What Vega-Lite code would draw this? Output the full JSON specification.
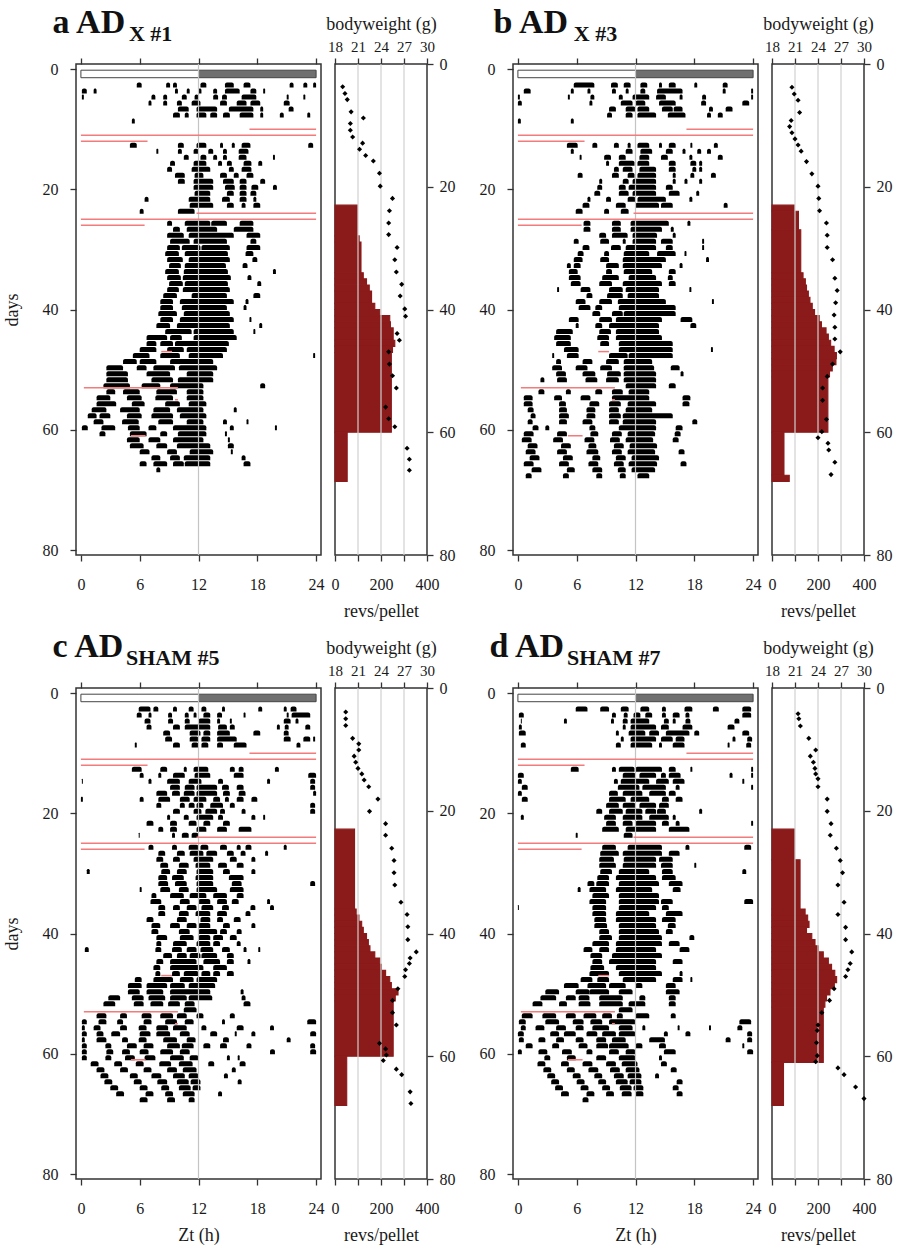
{
  "$schema": "https://vega.github.io/schema/vega-lite/v6.json",
  "padding": {"left": 2, "top": 5, "right": 5, "bottom": 5},
  "config": {
    "font": "Liberation Serif",
    "view": {"stroke": "#333333", "strokeWidth": 1.5},
    "axis": {
      "labelFont": "Liberation Serif", "labelFontSize": 16, "labelColor": "#1a1a1a",
      "titleFont": "Liberation Serif", "titleFontSize": 18, "titleFontWeight": "normal", "titleColor": "#1a1a1a",
      "tickColor": "#333333", "tickWidth": 1.3, "tickSize": 6, "domain": false, "grid": false, "labelPadding": 6,
      "labelOverlap": false, "labelFlush": false, "labelBound": false
    }
  },
  "datasets": {
    "feedLines": [
      {"d": 10, "s": 17.2, "e": 24}, {"d": 11, "s": 0, "e": 24}, {"d": 12, "s": 0, "e": 6.8},
      {"d": 24, "s": 11.8, "e": 24}, {"d": 25, "s": 0, "e": 24}, {"d": 26, "s": 0, "e": 6.5},
      {"d": 47, "s": 8.2, "e": 9.3}, {"d": 53, "s": 0.3, "e": 9.9}, {"d": 55, "s": 9.6, "e": 9.9}, {"d": 61, "s": 5.1, "e": 6.6}
    ],
    "actA": [
      {"d": 3, "s": [5.7,8.7,9.4,12.2,14.7,16.6,21.3,22.7,23.7], "e": [6.2,9.1,9.8,12.8,15.6,17.3,21.7,23.1,24]},
      {"d": 4, "s": [0.1,1.3,9.6,10.8,12.0,13.5,14.7,17.3,18.6], "e": [0.6,1.6,9.9,11.1,12.3,13.9,16.2,17.9,18.8]},
      {"d": 5, "s": [0.1,7.2,8.4,10.3,11.6,13.5,14.4,16.4,21.0,22.7], "e": [0.3,7.6,8.8,10.8,12.0,14.0,14.9,17.9,21.2,22.9]},
      {"d": 6, "s": [6.9,8.4,9.8,11.3,14.2,15.9,17.3,20.7], "e": [7.2,8.8,10.3,12.2,14.9,16.9,18.3,21.3]},
      {"d": 7, "s": [9.9,11.8,15.1,18.3,21.2], "e": [11.0,13.9,17.6,18.6,21.7]},
      {"d": 8, "s": [9.4,10.6,11.8,13.2,14.5,16.2,18.3,20.3,23.1], "e": [10.1,11.0,12.8,13.9,15.2,17.6,18.6,20.7,23.4]},
      {"d": 9, "s": [5.2], "e": [5.5]},
      {"d": 13, "s": [5.0,9.9,11.8,14.2,15.4,16.4,23.2], "e": [5.7,10.5,12.8,14.5,15.7,17.3,23.7]},
      {"d": 14, "s": [7.7,9.9,11.5,13.0,14.5,16.1], "e": [7.9,10.3,12.0,13.5,14.9,17.1]},
      {"d": 15, "s": [10.5,12.2,13.5,14.5,16.1,19.6], "e": [11.0,12.8,13.9,14.9,16.9,19.8]},
      {"d": 16, "s": [9.1,11.5,14.0,14.9,16.6,18.1], "e": [9.6,12.8,14.4,15.4,17.4,18.5]},
      {"d": 17, "s": [8.8,11.3,15.1,16.4], "e": [9.3,13.2,15.6,17.4]},
      {"d": 18, "s": [9.6,11.6,14.2,15.6,16.9], "e": [10.6,12.5,14.9,16.1,17.6]},
      {"d": 19, "s": [9.9,11.5,14.5,16.2,18.3], "e": [10.6,13.5,15.6,16.9,18.8]},
      {"d": 20, "s": [11.5,14.7,16.2,17.4,19.6], "e": [13.5,15.7,16.9,18.1,20.0]},
      {"d": 21, "s": [11.6,14.9,16.2,17.3], "e": [13.2,15.6,16.9,17.9]},
      {"d": 22, "s": [6.5,11.0,14.4,16.2,17.6], "e": [6.9,13.2,15.2,16.9,17.9]},
      {"d": 23, "s": [11.1,14.9,16.4,17.6], "e": [13.5,15.6,16.8,18.3]},
      {"d": 24, "s": [6.0,9.9], "e": [6.4,11.6]},
      {"d": 26, "s": [8.8,10.6,13.3,16.2], "e": [9.3,13.2,14.9,17.6]},
      {"d": 27, "s": [9.4,10.8,15.6], "e": [10.1,13.9,17.6]},
      {"d": 28, "s": [8.8,11.0,16.9], "e": [10.5,15.6,18.3]},
      {"d": 29, "s": [9.1,11.5,17.3], "e": [11.1,14.9,17.9]},
      {"d": 30, "s": [8.8,10.3,12.3,16.9], "e": [10.1,12.2,15.2,18.3]},
      {"d": 31, "s": [8.6,10.6,16.8], "e": [10.0,15.0,17.6]},
      {"d": 32, "s": [8.8,11.0,17.5], "e": [10.4,15.2,18.0]},
      {"d": 33, "s": [9.0,10.6,16.5], "e": [10.2,14.8,17.0]},
      {"d": 34, "s": [8.6,10.5,19.6], "e": [10.0,15.0,19.9]},
      {"d": 35, "s": [8.8,10.4,17.0], "e": [10.2,15.3,17.4]},
      {"d": 36, "s": [9.0,10.6,18.0], "e": [10.4,15.0,18.4]},
      {"d": 37, "s": [8.8,10.4], "e": [10.0,15.2]},
      {"d": 38, "s": [8.4,11.3,17.6], "e": [9.8,14.9,18.3]},
      {"d": 39, "s": [8.1,10.1,16.8], "e": [9.4,15.6,17.1]},
      {"d": 40, "s": [8.1,10.3,16.6], "e": [9.4,14.9,16.9]},
      {"d": 41, "s": [7.9,10.5], "e": [9.8,15.2]},
      {"d": 42, "s": [8.1,10.1,17.2], "e": [9.4,15.6,17.4]},
      {"d": 43, "s": [7.7,9.8,18.2], "e": [9.1,15.2,18.5]},
      {"d": 44, "s": [8.6,11.5,17.6], "e": [11.3,15.6,17.8]},
      {"d": 45, "s": [6.7,9.1,11.5], "e": [8.8,10.3,15.9]},
      {"d": 46, "s": [6.7,8.1,9.6], "e": [7.7,9.4,15.1]},
      {"d": 47, "s": [6.0,8.8,10.8], "e": [7.7,10.5,14.9]},
      {"d": 48, "s": [5.3,8.1,11.0,23.7], "e": [7.0,10.1,14.5,23.9]},
      {"d": 49, "s": [4.3,6.0,9.1], "e": [5.7,7.7,13.5]},
      {"d": 50, "s": [2.6,5.7,7.4,10.0], "e": [4.3,6.7,9.6,13.9]},
      {"d": 51, "s": [2.6,6.7,10.8], "e": [4.8,9.1,13.5]},
      {"d": 52, "s": [2.6,7.2,9.9], "e": [4.8,9.4,13.5]},
      {"d": 53, "s": [2.3,6.2,9.1,18.3], "e": [5.0,8.1,12.5,18.8]},
      {"d": 54, "s": [2.6,4.3,7.7,10.8], "e": [3.5,6.0,9.8,12.5]},
      {"d": 55, "s": [1.6,4.7,7.6,10.8], "e": [3.0,6.2,9.4,12.5]},
      {"d": 56, "s": [1.6,5.2,8.6,11.0], "e": [3.6,6.5,10.1,12.8]},
      {"d": 57, "s": [1.1,4.0,7.4,9.8,15.6], "e": [2.6,6.0,9.1,12.5,15.9]},
      {"d": 58, "s": [0.7,1.9,4.7,7.2,10.1], "e": [1.6,3.0,6.2,9.4,12.8]},
      {"d": 59, "s": [1.3,4.2,7.9,10.8,14.5,16.9], "e": [2.3,5.9,9.4,12.5,14.9,17.1]},
      {"d": 60, "s": [0.1,2.1,4.8,6.9,9.4,15.2,19.8], "e": [0.7,3.5,6.0,7.7,12.8,15.6,20.0]},
      {"d": 61, "s": [1.9,5.0,8.1,9.9,14.7], "e": [2.5,6.7,8.8,12.8,14.9]},
      {"d": 62, "s": [4.7,6.9,9.4,15.0], "e": [6.0,8.1,12.5,15.2]},
      {"d": 63, "s": [5.0,7.7,9.8,15.0], "e": [6.4,8.8,13.2,15.6]},
      {"d": 64, "s": [6.0,8.8,11.1,15.3], "e": [7.0,9.8,13.5,15.5]},
      {"d": 65, "s": [7.2,9.1,10.5,16.4], "e": [8.1,10.1,13.2,16.8]},
      {"d": 66, "s": [6.0,7.4,9.4,10.6,16.6], "e": [6.7,8.8,10.5,13.2,17.3]},
      {"d": 67, "s": [7.7], "e": [8.1]}
    ],
    "actB": [
      {"d": 3, "s": [5.7,9.5,10.8,12.5,14.4,15.4,18.0,20.9], "e": [7.8,10.2,11.5,13.2,14.7,16.1,18.3,21.4]},
      {"d": 4, "s": [0.6,5.4,7.1,9.6,11.0,12.5,14.2,20.9,23.8], "e": [1.3,5.7,7.4,10.0,11.3,13.0,16.8,21.2,24.0]},
      {"d": 5, "s": [0.0,5.1,7.4,10.3,11.7,14.1,16.5,18.8,23.8], "e": [0.2,5.3,7.8,10.7,13.4,15.1,16.8,19.2,24.0]},
      {"d": 6, "s": [0.0,7.3,10.5,12.0,14.4,18.7,22.9], "e": [0.4,7.6,11.7,13.0,16.1,19.2,23.6]},
      {"d": 7, "s": [9.3,11.0,12.2,14.7,15.9,19.5,21.2], "e": [10.0,12.0,13.4,15.8,16.8,19.9,21.9]},
      {"d": 8, "s": [9.1,11.0,12.2,15.3,19.3,20.4], "e": [9.6,11.7,14.1,17.1,19.7,20.9]},
      {"d": 9, "s": [0.0,5.4], "e": [0.3,5.7]},
      {"d": 13, "s": [5.0,7.6,9.8,11.2,12.2,14.4,15.4,17.6,20.0], "e": [6.1,8.1,10.3,11.5,13.4,14.7,16.1,17.8,20.4]},
      {"d": 14, "s": [5.4,11.0,12.5,15.1,16.8,18.3,19.3], "e": [5.7,11.7,13.7,15.8,17.1,18.7,19.7]},
      {"d": 15, "s": [6.3,8.8,10.3,12.4,14.6,17.5,20.4], "e": [6.5,9.5,11.0,13.4,15.3,17.8,20.9]},
      {"d": 16, "s": [9.0,10.3,12.2,15.4,17.6,18.5], "e": [9.3,11.9,13.4,16.1,18.2,18.8]},
      {"d": 17, "s": [9.8,10.7,12.4,15.4,17.8,18.5], "e": [10.3,11.7,14.1,16.1,18.2,18.8]},
      {"d": 18, "s": [6.1,9.6,11.2,12.2,15.8,17.6,19.7], "e": [6.6,10.3,11.9,14.1,16.1,18.0,20.2]},
      {"d": 19, "s": [8.3,10.7,11.7,15.8,17.0,18.5], "e": [8.6,11.3,14.1,16.1,17.3,18.8]},
      {"d": 20, "s": [8.1,10.3,11.3,15.1], "e": [8.6,11.0,14.1,15.8]},
      {"d": 21, "s": [7.8,10.3,11.7,15.4,18.2], "e": [8.4,11.3,14.1,16.5,18.5]},
      {"d": 22, "s": [7.1,9.0,11.2,12.2,17.5], "e": [7.4,9.5,12.0,15.1,17.8]},
      {"d": 23, "s": [6.6,10.0,12.0,14.6,21.0], "e": [7.3,11.0,14.4,15.8,21.4]},
      {"d": 24, "s": [5.9,8.8,10.5], "e": [6.6,9.3,11.3]},
      {"d": 26, "s": [6.7,9.6,11.5,17.3], "e": [7.4,10.5,15.4,17.6]},
      {"d": 27, "s": [6.7,9.6,11.5,15.6], "e": [7.4,10.5,14.7,15.9]},
      {"d": 28, "s": [8.3,9.6,11.7,15.8], "e": [9.0,11.2,14.2,16.1]},
      {"d": 29, "s": [5.7,8.4,10.7,11.7,14.6,18.8], "e": [6.2,9.3,11.0,14.1,15.8,19.0]},
      {"d": 30, "s": [6.6,9.5,11.0,15.1,18.8], "e": [7.3,10.5,14.1,15.8,19.0]},
      {"d": 31, "s": [6.1,8.8,10.8,14.2,17.0], "e": [6.7,9.3,13.4,16.1,17.2]},
      {"d": 32, "s": [5.7,8.4,10.7,19.2], "e": [6.6,9.3,15.1,19.5]},
      {"d": 33, "s": [5.0,5.7,9.0,10.7,16.5], "e": [5.4,6.4,10.3,14.7,16.8]},
      {"d": 34, "s": [5.2,9.0,10.8,15.4], "e": [6.1,9.6,13.7,16.1]},
      {"d": 35, "s": [5.2,8.6,11.3,15.3], "e": [6.4,10.3,14.1,15.8]},
      {"d": 36, "s": [5.4,8.3,10.7,15.4], "e": [6.4,9.6,14.7,16.1]},
      {"d": 37, "s": [4.0,6.4,9.3,11.0,17.5], "e": [4.2,7.4,10.7,14.4,17.7]},
      {"d": 38, "s": [7.0,9.1,11.2], "e": [7.6,10.7,14.4]},
      {"d": 39, "s": [5.9,8.3,10.2,19.8], "e": [6.9,9.6,15.1,20.0]},
      {"d": 40, "s": [6.2,7.9,10.3], "e": [7.4,8.6,16.1]},
      {"d": 41, "s": [7.6,9.6,10.8], "e": [8.4,10.7,16.1]},
      {"d": 42, "s": [5.2,8.3,10.0,16.6], "e": [6.2,9.6,14.7,17.8]},
      {"d": 43, "s": [5.9,7.9,9.3,17.6], "e": [6.2,8.6,14.4,18.2]},
      {"d": 44, "s": [3.9,8.3,10.0], "e": [5.6,9.5,14.4]},
      {"d": 45, "s": [3.7,8.1,10.0], "e": [5.4,9.3,14.7]},
      {"d": 46, "s": [3.9,8.4,10.3], "e": [5.4,9.3,15.8]},
      {"d": 47, "s": [4.7,10.3,19.7], "e": [6.2,15.8,19.9]},
      {"d": 48, "s": [3.5,5.0,9.3,11.3], "e": [3.7,6.2,11.2,15.8]},
      {"d": 49, "s": [3.9,6.6,9.0,10.8], "e": [4.4,7.6,10.3,13.7]},
      {"d": 50, "s": [3.5,5.9,8.4,10.8,15.6], "e": [4.5,7.1,9.6,13.9,16.5]},
      {"d": 51, "s": [3.9,6.6,9.1,10.8,16.6], "e": [4.9,7.9,10.5,14.1,16.9]},
      {"d": 52, "s": [2.3,4.0,6.9,9.0,10.8], "e": [2.7,5.0,8.1,10.3,14.1]},
      {"d": 53, "s": [11.0,15.4], "e": [14.1,16.1]},
      {"d": 54, "s": [2.1,4.9,7.9,9.6,11.3], "e": [2.7,5.4,8.6,10.7,13.4]},
      {"d": 55, "s": [0.6,3.7,6.4,9.6,16.8], "e": [1.5,4.5,7.4,13.4,17.6]},
      {"d": 56, "s": [0.6,4.2,7.3,9.3,11.2,16.8], "e": [1.5,4.9,8.3,10.5,14.1,17.5]},
      {"d": 57, "s": [1.0,4.2,7.0,9.3,11.0], "e": [1.6,5.0,7.9,10.3,13.7]},
      {"d": 58, "s": [1.3,4.2,7.0,9.3,10.7], "e": [1.8,5.2,7.9,10.5,15.8]},
      {"d": 59, "s": [1.0,4.2,6.6,9.3,10.7,17.8], "e": [1.5,5.0,7.6,10.3,14.1,18.3]},
      {"d": 60, "s": [1.5,2.8,7.3,10.3,16.1], "e": [2.1,3.2,7.9,14.1,16.8]},
      {"d": 61, "s": [0.6,4.0,7.4,9.6,11.2,16.0], "e": [1.6,5.0,8.2,10.6,14.0,16.6]},
      {"d": 62, "s": [0.4,3.6,6.8,9.4,11.0,15.8], "e": [1.4,4.6,7.8,10.4,13.8,16.4]},
      {"d": 63, "s": [1.0,4.4,7.2,9.8,11.4], "e": [2.0,5.4,8.0,10.8,14.2]},
      {"d": 64, "s": [0.8,4.0,7.0,9.6,11.2,16.4], "e": [1.8,5.0,8.2,10.6,14.0,17.0]},
      {"d": 65, "s": [1.2,4.6,7.6,10.0,11.6], "e": [2.2,5.6,8.4,11.0,14.4]},
      {"d": 66, "s": [0.6,4.2,7.2,9.8,11.3,16.6], "e": [1.6,5.2,8.2,10.8,14.2,17.2]},
      {"d": 67, "s": [1.4,5.0,7.6,10.2,11.6], "e": [2.4,5.8,8.6,11.0,14.0]},
      {"d": 68, "s": [0.8,4.6,8.0,10.4,12.2], "e": [1.4,5.2,8.6,11.0,13.4]}
    ],
    "actC": [
      {"d": 3, "s": [5.9,7.4,9.4,11.0,12.3,14.4,18.1,20.7,21.4], "e": [7.1,7.9,9.8,11.5,12.8,14.7,18.5,21.0,22.0]},
      {"d": 4, "s": [5.7,6.9,8.9,10.6,11.5,12.5,13.9,16.6,21.0,21.5], "e": [6.2,7.2,9.3,11.0,11.8,13.2,14.4,16.8,21.2,23.4]},
      {"d": 5, "s": [6.5,8.9,10.6,12.0,13.9,15.2,20.7,21.9], "e": [7.1,9.4,11.1,13.2,14.2,15.4,21.4,22.2]},
      {"d": 6, "s": [6.7,9.4,10.6,14.0,15.2,20.0,20.8,22.9], "e": [7.2,10.1,13.2,14.9,15.7,20.3,21.2,23.4]},
      {"d": 7, "s": [8.4,11.1,12.5,13.9,17.6,20.7], "e": [9.1,12.2,13.2,15.2,18.3,21.2]},
      {"d": 8, "s": [8.6,11.1,12.3,13.9,20.7,22.7,23.7], "e": [9.3,12.0,13.2,15.9,21.4,23.4,23.9]},
      {"d": 9, "s": [5.5,9.4,11.3,12.3,13.9,15.6,22.0], "e": [5.7,10.1,12.0,13.0,14.5,16.9,22.4]},
      {"d": 13, "s": [5.2,8.1,10.5,11.5,15.2,16.1,19.8], "e": [6.2,8.8,10.8,13.0,15.7,16.6,20.2]},
      {"d": 14, "s": [6.0,7.9,9.4,11.6,15.6,23.2], "e": [6.4,8.2,10.6,13.2,16.6,24.0]},
      {"d": 15, "s": [0.1,6.9,8.8,11.0,14.0,19.0,23.4], "e": [0.2,7.2,10.1,12.3,14.5,19.3,23.9]},
      {"d": 16, "s": [9.1,10.6,11.8,14.4,15.9,23.4], "e": [10.1,11.6,13.9,15.1,16.6,23.9]},
      {"d": 17, "s": [7.7,9.3,10.5,11.8,14.5,16.1,23.7], "e": [8.8,10.1,11.6,13.9,15.2,16.8,24.0]},
      {"d": 18, "s": [0.0,6.0,7.9,10.1,11.5,13.5,14.7,15.9,17.4], "e": [0.2,6.4,9.1,11.1,12.8,14.2,15.1,16.6,18.0]},
      {"d": 19, "s": [7.7,10.1,11.0,11.8,13.2,15.2,23.4], "e": [8.2,10.6,11.6,12.5,14.5,15.7,23.9]},
      {"d": 20, "s": [9.4,11.5,12.7,14.2,16.4,23.4], "e": [10.1,12.3,13.9,14.7,16.8,23.9]},
      {"d": 21, "s": [8.8,10.5,11.8,14.0,17.4,18.6], "e": [9.1,11.0,13.5,14.5,17.8,18.8]},
      {"d": 22, "s": [6.7,9.1,11.0,12.5,14.5], "e": [7.4,9.8,11.8,13.2,15.2]},
      {"d": 23, "s": [7.9,9.1,11.8,13.9,16.1], "e": [8.4,9.8,12.8,14.9,17.4]},
      {"d": 24, "s": [5.9,9.3,10.3,11.3], "e": [6.0,9.6,11.0,12.0]},
      {"d": 26, "s": [6.9,9.3,11.0,12.2,14.2,15.9,16.8,20.7], "e": [7.4,9.8,12.0,13.0,14.9,16.3,17.4,21.0]},
      {"d": 27, "s": [7.9,9.8,11.1,12.8,14.9,16.3,18.8], "e": [8.6,10.6,12.5,13.9,15.6,16.8,19.1]},
      {"d": 28, "s": [7.7,9.4,11.5,15.2,17.4], "e": [8.4,10.1,13.5,15.9,17.8]},
      {"d": 29, "s": [8.1,10.0,11.7,14.0,15.9], "e": [8.9,11.0,13.2,14.9,16.6]},
      {"d": 30, "s": [0.6,8.2,9.8,11.8,14.5,17.4], "e": [0.9,9.1,10.8,13.5,15.2,17.8]},
      {"d": 31, "s": [7.9,9.3,11.7,15.1], "e": [8.8,10.5,13.5,16.6]},
      {"d": 32, "s": [7.9,9.6,11.8,15.4,23.4], "e": [8.9,10.8,13.5,16.4,23.9]},
      {"d": 33, "s": [6.0,8.1,10.0,11.8,15.2], "e": [6.2,9.1,11.0,13.9,16.6]},
      {"d": 34, "s": [7.2,9.1,11.1,13.5,15.9], "e": [7.7,10.5,12.8,14.9,16.6]},
      {"d": 35, "s": [7.1,10.1,12.0,13.9,15.4,19.0], "e": [8.2,11.1,13.2,14.9,16.1,19.3]},
      {"d": 36, "s": [7.9,9.4,10.8,12.3,14.4,17.3,19.3], "e": [8.6,10.1,11.8,13.5,15.1,17.8,19.7]},
      {"d": 37, "s": [7.9,10.0,11.7,13.9,16.8], "e": [8.6,11.0,13.2,14.9,17.3]},
      {"d": 38, "s": [6.7,9.8,12.2,13.9,15.6], "e": [7.4,10.8,13.2,14.5,16.3]},
      {"d": 39, "s": [7.2,9.1,10.8,12.0,14.5,17.4], "e": [8.1,10.1,11.8,13.2,15.2,17.8]},
      {"d": 40, "s": [7.2,10.0,12.0,14.2,15.9], "e": [7.9,11.1,13.9,14.9,16.4]},
      {"d": 41, "s": [7.7,10.1,12.0,13.5,15.2], "e": [8.8,11.5,13.2,14.5,15.9]},
      {"d": 42, "s": [7.7,9.4,11.8,13.5,15.9], "e": [8.2,10.8,13.2,14.2,16.3]},
      {"d": 43, "s": [0.4,7.6,9.3,10.8,12.2,14.4,16.6,18.1], "e": [0.8,8.2,10.3,11.8,13.5,15.2,16.9,18.3]},
      {"d": 44, "s": [8.4,9.8,11.1,12.3,14.9], "e": [9.3,10.8,12.2,13.9,15.6]},
      {"d": 45, "s": [7.7,9.1,12.5,14.9,17.0], "e": [8.4,11.8,14.2,15.6,17.3]},
      {"d": 46, "s": [7.4,9.1,13.5], "e": [8.1,12.5,14.9]},
      {"d": 47, "s": [7.6,9.3,10.5,12.3,13.5,14.9], "e": [8.1,10.1,12.0,13.2,14.2,15.6]},
      {"d": 48, "s": [5.5,7.4,10.1,11.8], "e": [6.2,9.4,11.5,13.9]},
      {"d": 49, "s": [4.8,6.7,9.1,11.0], "e": [6.2,8.8,10.6,13.7]},
      {"d": 50, "s": [4.8,6.7,9.1,16.3], "e": [6.0,8.4,13.2,16.6]},
      {"d": 51, "s": [2.8,5.2,6.9,9.1,11.0,16.4], "e": [4.0,6.4,8.6,10.8,13.4,16.8]},
      {"d": 52, "s": [2.3,5.4,7.1,8.9,10.6,16.6], "e": [3.5,6.4,8.4,10.1,11.6,17.3]},
      {"d": 53, "s": [10.5], "e": [11.8]},
      {"d": 54, "s": [1.6,4.0,6.2,8.1,9.8,11.8,15.2], "e": [2.6,4.7,7.2,9.4,10.8,12.5,15.7]},
      {"d": 55, "s": [0.1,1.8,3.7,6.4,8.6,10.6,14.4,23.1], "e": [0.6,2.6,4.3,7.2,9.8,11.5,14.7,24.0]},
      {"d": 56, "s": [0.1,1.3,4.0,5.9,7.7,9.4,12.3,15.9,19.3], "e": [0.4,2.0,4.7,6.7,8.9,10.8,12.8,16.6,19.7]},
      {"d": 57, "s": [0.1,1.6,3.1,6.0,7.7,10.1,13.2,15.7,17.4,23.4], "e": [0.6,2.3,4.0,7.1,9.1,11.1,13.9,15.9,17.8,24.0]},
      {"d": 58, "s": [0.1,1.6,4.2,5.9,8.4,10.8,14.5,21.0], "e": [0.4,2.6,4.8,6.7,9.8,11.7,15.1,21.4]},
      {"d": 59, "s": [0.1,2.5,4.7,6.4,8.8,10.3,12.5,14.2,16.9,23.4], "e": [0.6,3.1,5.7,7.4,10.1,11.5,13.2,14.9,17.4,23.9]},
      {"d": 60, "s": [0.1,2.6,4.2,6.0,8.1,10.1,19.3,23.4], "e": [0.6,3.3,5.0,6.9,9.4,11.1,19.8,24.0]},
      {"d": 61, "s": [0.1,2.5,4.5,6.5,9.1,11.1,14.9,16.0], "e": [0.6,3.1,5.5,7.6,10.5,12.0,15.2,16.2]},
      {"d": 62, "s": [1.0,3.4,5.6,8.0,10.0,13.0,16.2], "e": [1.8,4.2,6.4,9.2,11.4,13.6,16.8]},
      {"d": 63, "s": [1.6,4.0,6.4,8.8,10.4,15.4], "e": [2.4,4.8,7.2,9.8,11.8,15.8]},
      {"d": 64, "s": [2.0,5.0,7.2,9.4,11.0,14.6], "e": [2.8,5.8,8.2,10.6,12.0,15.0]},
      {"d": 65, "s": [2.4,5.4,7.8,9.8,11.2,16.0], "e": [3.2,6.2,8.8,11.0,12.2,16.4]},
      {"d": 66, "s": [3.0,6.0,8.2,10.0,11.4], "e": [3.8,6.8,9.0,11.2,12.2]},
      {"d": 67, "s": [3.6,6.6,8.6,10.4,14.0], "e": [4.4,7.4,9.4,11.6,14.4]},
      {"d": 68, "s": [6.0,8.8,11.0], "e": [6.8,9.6,11.6]}
    ],
    "actD": [
      {"d": 3, "s": [5.9,8.4,10.5,12.5,14.7,17.0,19.9,22.9], "e": [7.1,9.3,11.3,13.4,15.1,17.8,20.5,23.8]},
      {"d": 4, "s": [0.1,9.6,10.8,11.8,13.0,14.7,15.8,17.1,22.9], "e": [0.6,10.0,11.2,12.5,13.7,15.1,16.5,17.5,23.8]},
      {"d": 5, "s": [0.3,4.7,9.5,10.7,11.5,14.9,15.8,17.1,22.1], "e": [0.4,5.0,9.8,11.2,13.4,15.4,16.1,17.6,22.6]},
      {"d": 6, "s": [0.1,10.7,11.5,14.6,16.8,21.4], "e": [0.4,11.0,14.1,15.4,17.8,22.1]},
      {"d": 7, "s": [0.1,10.0,11.3,13.4,15.1,18.0,22.9], "e": [0.8,10.3,13.0,14.4,17.5,18.5,23.6]},
      {"d": 8, "s": [10.5,11.5,14.6,16.1,21.9,23.4], "e": [10.8,14.1,15.8,17.0,22.2,23.9]},
      {"d": 9, "s": [0.3,10.0,11.5,14.4,15.8,21.4,23.3], "e": [0.8,10.5,13.7,14.7,17.0,21.6,23.8]},
      {"d": 13, "s": [5.4,9.6,10.3,12.0,15.4,17.6,23.8], "e": [6.2,10.0,11.9,14.7,16.1,17.8,24.0]},
      {"d": 14, "s": [0.0,10.7,12.4,14.6,15.4,21.6,23.8], "e": [0.6,12.0,14.1,15.1,16.6,21.9,24.0]},
      {"d": 15, "s": [0.0,9.8,10.5,14.1,15.8,22.9], "e": [0.4,10.2,13.4,15.4,17.0,23.1]},
      {"d": 16, "s": [0.4,10.2,12.7,16.1,23.8], "e": [1.0,12.4,15.1,16.5,24.0]},
      {"d": 17, "s": [0.0,9.3,10.7,13.4,15.4], "e": [0.4,10.2,12.7,15.1,16.1]},
      {"d": 18, "s": [0.4,9.3,11.5,14.7,16.1], "e": [1.0,11.0,13.4,15.4,16.8]},
      {"d": 19, "s": [9.0,10.7,12.4,14.4], "e": [10.3,12.0,14.1,15.4]},
      {"d": 20, "s": [8.0,9.3,11.0,13.0,14.2,18.5], "e": [8.6,10.7,12.7,14.1,15.1,18.8]},
      {"d": 21, "s": [0.3,8.8,10.7,13.4,15.8], "e": [0.6,10.0,12.7,15.4,16.1]},
      {"d": 22, "s": [9.0,10.7,12.0,14.7,16.1,23.8], "e": [10.0,11.7,14.1,15.4,16.5,24.0]},
      {"d": 23, "s": [8.6,11.0,15.4], "e": [10.3,14.1,17.5]},
      {"d": 24, "s": [5.9,10.8], "e": [6.1,11.7]},
      {"d": 26, "s": [8.6,11.2,17.1,23.1], "e": [10.0,14.7,17.5,23.8]},
      {"d": 27, "s": [8.4,10.7,15.4], "e": [10.3,14.7,16.5]},
      {"d": 28, "s": [8.3,10.8,14.4], "e": [9.8,14.1,15.8]},
      {"d": 29, "s": [8.3,10.7,14.6,18.0], "e": [10.0,14.1,15.8,18.2]},
      {"d": 30, "s": [8.4,10.3,14.7,22.9], "e": [9.6,13.4,15.8,23.3]},
      {"d": 31, "s": [8.1,10.0,14.7], "e": [9.3,14.1,16.1]},
      {"d": 32, "s": [7.1,8.0,10.3,15.4], "e": [7.8,9.3,14.4,16.8]},
      {"d": 33, "s": [6.1,7.3,10.0,15.8], "e": [6.4,9.0,13.7,16.6]},
      {"d": 34, "s": [7.6,10.3], "e": [9.3,14.4]},
      {"d": 35, "s": [7.3,10.3,14.6,23.1], "e": [9.0,14.4,15.8,24.0]},
      {"d": 36, "s": [0.0,7.6,10.3,14.7], "e": [0.1,9.0,14.1,15.4]},
      {"d": 37, "s": [7.6,10.0,15.1], "e": [9.0,13.4,16.8]},
      {"d": 38, "s": [7.8,10.0,14.7], "e": [9.0,14.1,16.1]},
      {"d": 39, "s": [7.8,10.3,15.3], "e": [9.1,14.1,16.1]},
      {"d": 40, "s": [8.3,10.3,15.1], "e": [9.3,14.4,15.8]},
      {"d": 41, "s": [8.3,10.3,17.5], "e": [9.6,14.7,18.0]},
      {"d": 42, "s": [7.6,10.0,15.4], "e": [9.3,14.7,16.5]},
      {"d": 43, "s": [6.7,8.3,10.0,16.5], "e": [7.6,9.3,14.1,17.5]},
      {"d": 44, "s": [7.4,9.6], "e": [8.6,14.7]},
      {"d": 45, "s": [7.6,9.3,15.8], "e": [8.6,14.1,16.8]},
      {"d": 46, "s": [7.4,10.0], "e": [8.8,14.1]},
      {"d": 47, "s": [7.3,10.3,16.5], "e": [9.3,14.7,16.8]},
      {"d": 48, "s": [6.4,8.1,10.7,15.8,17.6], "e": [7.6,9.3,14.1,16.8,17.8]},
      {"d": 49, "s": [4.7,7.1,9.3,12.0,15.1], "e": [6.2,9.0,11.0,12.7,16.1]},
      {"d": 50, "s": [2.8,5.9,7.3,10.3,15.1], "e": [4.2,7.3,9.3,11.7,16.5]},
      {"d": 51, "s": [2.3,4.9,6.2,8.3,12.4,15.4], "e": [3.9,5.9,7.3,10.7,13.0,16.1]},
      {"d": 52, "s": [1.5,4.2,6.2,8.3,11.3,15.4], "e": [2.5,5.0,7.4,10.7,13.0,16.1]},
      {"d": 53, "s": [10.3], "e": [11.7]},
      {"d": 54, "s": [0.4,2.5,4.9,6.7,8.6,10.1,12.0,15.6], "e": [1.5,3.9,5.9,8.0,9.6,10.7,13.4,16.1]},
      {"d": 55, "s": [0.1,2.8,5.6,7.4,9.3,22.6], "e": [0.8,4.2,6.7,8.6,12.0,23.8]},
      {"d": 56, "s": [0.3,1.8,3.9,5.9,7.6,10.3,12.7,16.3,19.5,22.4], "e": [0.8,2.7,4.9,6.7,9.3,11.7,13.0,16.5,19.7,22.9]},
      {"d": 57, "s": [0.0,3.3,4.7,7.0,8.6,10.3,14.9,17.1,23.4], "e": [0.6,4.2,5.9,8.1,10.0,12.0,15.3,17.6,23.9]},
      {"d": 58, "s": [0.1,2.1,3.9,5.9,8.0,9.6,13.4,21.2,23.4], "e": [0.6,2.8,4.7,6.7,9.0,11.0,15.0,21.7,23.9]},
      {"d": 59, "s": [0.8,3.5,6.2,8.0,9.3,12.0,14.4,22.9], "e": [1.5,4.2,7.1,9.2,11.3,12.7,15.1,23.1]},
      {"d": 60, "s": [0.0,2.1,4.5,7.0,9.3,11.0,14.9,23.4], "e": [0.4,3.0,5.5,7.6,10.3,12.0,16.1,24.0]},
      {"d": 61, "s": [2.7,5.0,8.0,10.3,14.4], "e": [3.3,5.9,9.0,12.0,14.7]},
      {"d": 62, "s": [2.0,4.4,6.6,9.0,10.6,14.6], "e": [2.8,5.2,7.6,10.0,12.2,15.2]},
      {"d": 63, "s": [2.6,5.0,7.2,9.4,11.0,15.6], "e": [3.4,5.8,8.2,10.4,12.4,16.2]},
      {"d": 64, "s": [3.0,5.6,7.8,9.8,11.2,14.0], "e": [3.8,6.4,8.6,10.8,12.6,14.4]},
      {"d": 65, "s": [3.4,6.0,8.2,10.0,11.4,16.2], "e": [4.2,6.8,9.0,11.2,12.6,16.8]},
      {"d": 66, "s": [3.8,6.4,8.6,10.4,11.8,15.8], "e": [4.6,7.2,9.4,11.6,12.8,16.4]},
      {"d": 67, "s": [4.4,7.0,9.0,10.6,12.0,16.2], "e": [5.2,7.8,9.8,11.6,12.8,16.8]},
      {"d": 68, "s": [6.6], "e": [7.2]}
    ],
    "revA": [
      {"d0": 23, "d1": 28, "r": 97}, {"d0": 28, "d1": 29, "r": 105}, {"d0": 29, "d1": 34, "r": 113},
      {"d0": 34, "d1": 35, "r": 123}, {"d0": 35, "d1": 36, "r": 137}, {"d0": 36, "d1": 37, "r": 149},
      {"d0": 37, "d1": 39, "r": 159}, {"d0": 39, "d1": 40, "r": 173}, {"d0": 40, "d1": 41, "r": 195},
      {"d0": 41, "d1": 42, "r": 238}, {"d0": 42, "d1": 43, "r": 241}, {"d0": 43, "d1": 45, "r": 253},
      {"d0": 45, "d1": 46, "r": 260}, {"d0": 46, "d1": 47, "r": 250}, {"d0": 47, "d1": 60, "r": 245},
      {"d0": 60, "d1": 68, "r": 53}
    ],
    "revB": [
      {"d0": 23, "d1": 24, "r": 97}, {"d0": 24, "d1": 27, "r": 115}, {"d0": 27, "d1": 34, "r": 125},
      {"d0": 34, "d1": 35, "r": 135}, {"d0": 35, "d1": 36, "r": 145}, {"d0": 36, "d1": 37, "r": 150},
      {"d0": 37, "d1": 38, "r": 158}, {"d0": 38, "d1": 39, "r": 165}, {"d0": 39, "d1": 40, "r": 175},
      {"d0": 40, "d1": 41, "r": 185}, {"d0": 41, "d1": 42, "r": 205}, {"d0": 42, "d1": 43, "r": 215},
      {"d0": 43, "d1": 44, "r": 235}, {"d0": 44, "d1": 45, "r": 245}, {"d0": 45, "d1": 46, "r": 255},
      {"d0": 46, "d1": 47, "r": 270}, {"d0": 47, "d1": 48, "r": 280}, {"d0": 48, "d1": 49, "r": 278},
      {"d0": 49, "d1": 50, "r": 262}, {"d0": 50, "d1": 51, "r": 250}, {"d0": 51, "d1": 60, "r": 243},
      {"d0": 60, "d1": 67, "r": 52}, {"d0": 67, "d1": 68, "r": 75}
    ],
    "revC": [
      {"d0": 23, "d1": 36, "r": 85}, {"d0": 36, "d1": 37, "r": 92}, {"d0": 37, "d1": 38, "r": 104},
      {"d0": 38, "d1": 39, "r": 116}, {"d0": 39, "d1": 40, "r": 123}, {"d0": 40, "d1": 41, "r": 137},
      {"d0": 41, "d1": 42, "r": 145}, {"d0": 42, "d1": 43, "r": 152}, {"d0": 43, "d1": 44, "r": 173},
      {"d0": 44, "d1": 45, "r": 195}, {"d0": 45, "d1": 46, "r": 202}, {"d0": 46, "d1": 47, "r": 220},
      {"d0": 47, "d1": 48, "r": 238}, {"d0": 48, "d1": 49, "r": 245}, {"d0": 49, "d1": 50, "r": 274},
      {"d0": 50, "d1": 51, "r": 262}, {"d0": 51, "d1": 60, "r": 253}, {"d0": 60, "d1": 68, "r": 51}
    ],
    "revD": [
      {"d0": 23, "d1": 28, "r": 98}, {"d0": 28, "d1": 36, "r": 122}, {"d0": 36, "d1": 37, "r": 144},
      {"d0": 37, "d1": 38, "r": 155}, {"d0": 38, "d1": 39, "r": 161}, {"d0": 39, "d1": 40, "r": 150},
      {"d0": 40, "d1": 41, "r": 173}, {"d0": 41, "d1": 42, "r": 187}, {"d0": 42, "d1": 43, "r": 201},
      {"d0": 43, "d1": 44, "r": 223}, {"d0": 44, "d1": 45, "r": 245}, {"d0": 45, "d1": 46, "r": 259},
      {"d0": 46, "d1": 47, "r": 273}, {"d0": 47, "d1": 48, "r": 281}, {"d0": 48, "d1": 49, "r": 271},
      {"d0": 49, "d1": 50, "r": 252}, {"d0": 50, "d1": 51, "r": 237}, {"d0": 51, "d1": 52, "r": 230},
      {"d0": 52, "d1": 61, "r": 223}, {"d0": 61, "d1": 68, "r": 50}
    ],
    "bwA": [
      {"d": 3.7, "w": 19.0}, {"d": 4.8, "w": 19.3}, {"d": 5.8, "w": 19.6}, {"d": 7.8, "w": 20.1}, {"d": 8.8, "w": 21.7},
      {"d": 9.7, "w": 20.0}, {"d": 10.8, "w": 20.0}, {"d": 11.9, "w": 20.3}, {"d": 12.9, "w": 21.6}, {"d": 13.9, "w": 21.2},
      {"d": 14.9, "w": 22.0}, {"d": 15.8, "w": 23.0}, {"d": 17.8, "w": 23.8}, {"d": 19.9, "w": 23.9}, {"d": 21.9, "w": 25.5},
      {"d": 23.9, "w": 25.1}, {"d": 25.9, "w": 25.0}, {"d": 27.8, "w": 25.0}, {"d": 29.9, "w": 26.1}, {"d": 31.9, "w": 25.8},
      {"d": 33.9, "w": 26.0}, {"d": 35.9, "w": 26.7}, {"d": 37.8, "w": 26.5}, {"d": 39.9, "w": 27.1}, {"d": 41.1, "w": 27.2},
      {"d": 43.9, "w": 26.1}, {"d": 45.0, "w": 26.4}, {"d": 46.9, "w": 25.0}, {"d": 48.9, "w": 25.1}, {"d": 50.8, "w": 25.5},
      {"d": 52.8, "w": 26.0}, {"d": 55.9, "w": 24.6}, {"d": 57.8, "w": 25.0}, {"d": 59.1, "w": 25.8}, {"d": 62.6, "w": 27.4},
      {"d": 64.4, "w": 27.7}, {"d": 66.2, "w": 27.7}
    ],
    "bwB": [
      {"d": 3.8, "w": 20.6}, {"d": 4.9, "w": 20.9}, {"d": 5.9, "w": 21.4}, {"d": 7.9, "w": 21.6}, {"d": 9.2, "w": 20.5},
      {"d": 10.2, "w": 20.3}, {"d": 11.2, "w": 20.6}, {"d": 12.2, "w": 21.0}, {"d": 13.2, "w": 21.4}, {"d": 14.2, "w": 21.8},
      {"d": 15.9, "w": 22.5}, {"d": 17.9, "w": 23.2}, {"d": 19.9, "w": 24.0}, {"d": 21.9, "w": 24.1}, {"d": 23.9, "w": 24.2},
      {"d": 25.9, "w": 25.1}, {"d": 27.9, "w": 25.2}, {"d": 29.9, "w": 25.2}, {"d": 31.9, "w": 25.9}, {"d": 34.9, "w": 26.2},
      {"d": 36.9, "w": 26.5}, {"d": 38.9, "w": 26.3}, {"d": 40.9, "w": 26.1}, {"d": 42.9, "w": 26.2}, {"d": 44.8, "w": 26.2},
      {"d": 46.9, "w": 26.9}, {"d": 48.9, "w": 25.9}, {"d": 50.9, "w": 25.2}, {"d": 52.8, "w": 24.6}, {"d": 54.8, "w": 24.6},
      {"d": 57.9, "w": 25.1}, {"d": 59.9, "w": 24.5}, {"d": 60.9, "w": 24.0}, {"d": 61.8, "w": 25.3}, {"d": 62.9, "w": 25.4},
      {"d": 64.9, "w": 26.2}, {"d": 66.9, "w": 25.7}
    ],
    "bwC": [
      {"d": 3.9, "w": 19.4}, {"d": 5.0, "w": 19.4}, {"d": 6.1, "w": 19.4}, {"d": 8.2, "w": 20.3}, {"d": 9.1, "w": 21.1},
      {"d": 10.1, "w": 21.1}, {"d": 11.1, "w": 20.5}, {"d": 12.1, "w": 20.7}, {"d": 13.1, "w": 21.0}, {"d": 14.0, "w": 21.5},
      {"d": 15.0, "w": 21.8}, {"d": 16.1, "w": 22.4}, {"d": 18.1, "w": 23.6}, {"d": 20.1, "w": 22.5}, {"d": 22.1, "w": 24.6},
      {"d": 24.0, "w": 24.6}, {"d": 26.1, "w": 25.4}, {"d": 28.1, "w": 25.7}, {"d": 30.1, "w": 25.7}, {"d": 32.1, "w": 25.8},
      {"d": 34.9, "w": 26.6}, {"d": 36.9, "w": 27.4}, {"d": 38.9, "w": 27.5}, {"d": 41.0, "w": 27.5}, {"d": 43.0, "w": 28.6},
      {"d": 44.0, "w": 27.8}, {"d": 44.9, "w": 27.7}, {"d": 45.9, "w": 27.2}, {"d": 47.0, "w": 27.1}, {"d": 49.0, "w": 26.2},
      {"d": 50.9, "w": 25.5}, {"d": 52.9, "w": 25.5}, {"d": 54.9, "w": 26.0}, {"d": 57.9, "w": 23.8}, {"d": 58.8, "w": 24.6},
      {"d": 59.8, "w": 24.7}, {"d": 60.7, "w": 24.3}, {"d": 62.1, "w": 26.0}, {"d": 63.0, "w": 26.7}, {"d": 65.8, "w": 27.8},
      {"d": 67.7, "w": 27.9}
    ],
    "bwD": [
      {"d": 4.2, "w": 21.4}, {"d": 5.0, "w": 21.5}, {"d": 6.2, "w": 21.7}, {"d": 8.2, "w": 22.8}, {"d": 10.1, "w": 23.7},
      {"d": 11.1, "w": 23.0}, {"d": 12.1, "w": 23.4}, {"d": 13.1, "w": 23.6}, {"d": 14.0, "w": 23.7}, {"d": 14.8, "w": 24.0},
      {"d": 16.1, "w": 24.0}, {"d": 18.1, "w": 25.2}, {"d": 20.1, "w": 25.2}, {"d": 22.1, "w": 25.7}, {"d": 24.0, "w": 25.6},
      {"d": 26.1, "w": 26.4}, {"d": 28.1, "w": 26.9}, {"d": 30.1, "w": 27.2}, {"d": 32.1, "w": 26.6}, {"d": 34.9, "w": 27.4},
      {"d": 36.9, "w": 26.6}, {"d": 39.0, "w": 27.6}, {"d": 41.0, "w": 27.6}, {"d": 43.0, "w": 28.4}, {"d": 44.9, "w": 28.2},
      {"d": 45.9, "w": 27.9}, {"d": 47.0, "w": 27.6}, {"d": 49.0, "w": 26.1}, {"d": 50.9, "w": 25.5}, {"d": 52.9, "w": 24.5},
      {"d": 54.9, "w": 24.0}, {"d": 55.8, "w": 23.9}, {"d": 57.8, "w": 23.8}, {"d": 59.9, "w": 23.9}, {"d": 60.9, "w": 23.7},
      {"d": 61.9, "w": 26.6}, {"d": 63.0, "w": 27.4}, {"d": 65.0, "w": 28.9}, {"d": 66.9, "w": 30.0}
    ]
  },
  "bounds": "flush",
  "columns": 5,
  "spacing": {"row": 133, "column": 14},
  "concat": [
    {
      "width": 245, "height": 491,
      "layer": [
        {"data": {"values": [{"s": 0, "e": 12, "t": 0.2, "b": 1.45, "phase": "light"}, {"s": 12, "e": 24, "t": 0.2, "b": 1.45, "phase": "dark"}]},
         "mark": {"type": "rect", "stroke": "#444444", "strokeWidth": 1},
         "encoding": {
           "x": {"field": "s", "type": "quantitative", "scale": {"domain": [-0.5, 24.5], "nice": false, "zero": false}, "axis": {"orient": "top", "values": [0, 6, 12, 18, 24], "labels": false, "title": null}},
           "x2": {"field": "e"},
           "y": {"field": "t", "type": "quantitative", "scale": {"domain": [0, 80], "reverse": true, "nice": false, "zero": false}},
           "y2": {"field": "b"},
           "fill": {"field": "phase", "type": "nominal", "scale": {"domain": ["light", "dark"], "range": ["#ffffff", "#707070"]}, "legend": null}}},
        {"data": {"name": "actA"}, "transform": [{"flatten": ["s", "e"]}],
         "mark": {"type": "bar", "orient": "horizontal", "size": 5, "yOffset": -2, "color": "#000000", "cornerRadiusTopLeft": 2, "cornerRadiusTopRight": 2},
         "encoding": {
           "x": {"field": "s", "type": "quantitative", "scale": {"domain": [-0.5, 24.5], "nice": false, "zero": false}, "axis": {"orient": "bottom", "values": [0, 6, 12, 18, 24], "title": null, "labelPadding": 15}},
           "x2": {"field": "e"},
           "y": {"field": "d", "type": "quantitative", "scale": {"domain": [0, 80], "reverse": true, "nice": false, "zero": false}, "axis": {"orient": "left", "values": [0, 20, 40, 60, 80], "title": "days", "labelPadding": 12, "titlePadding": 21}}}},
        {"data": {"values": [{"h": 12}]},
         "mark": {"type": "rule", "color": "#c4c4c4", "strokeWidth": 1.2},
         "encoding": {"x": {"field": "h", "type": "quantitative", "scale": {"domain": [-0.5, 24.5], "nice": false, "zero": false}, "axis": null}}},
        {"data": {"name": "feedLines"},
         "mark": {"type": "rule", "color": "#f27b7b", "strokeWidth": 1.5},
         "encoding": {
           "x": {"field": "s", "type": "quantitative", "scale": {"domain": [-0.5, 24.5], "nice": false, "zero": false}, "axis": null},
           "x2": {"field": "e"},
           "y": {"field": "d", "type": "quantitative", "scale": {"domain": [0, 80], "reverse": true, "nice": false, "zero": false}}}},
        {"data": {"values": [{"label": "a AD", "h": -2.9, "dd": -6.0}]},
         "mark": {"type": "text", "font": "Liberation Serif", "fontSize": 34, "fontWeight": "bold", "align": "left", "baseline": "alphabetic", "color": "#111111"},
         "encoding": {"x": {"field": "h", "type": "quantitative", "scale": {"domain": [-0.5, 24.5], "nice": false, "zero": false}, "axis": null}, "y": {"field": "dd", "type": "quantitative", "scale": {"domain": [0, 80], "reverse": true, "nice": false, "zero": false}}, "text": {"field": "label"}}},
        {"data": {"values": [{"label": "X #1", "h": 4.9, "dd": -4.6}]},
         "mark": {"type": "text", "font": "Liberation Serif", "fontSize": 22, "fontWeight": "bold", "align": "left", "baseline": "alphabetic", "color": "#111111"},
         "encoding": {"x": {"field": "h", "type": "quantitative", "scale": {"domain": [-0.5, 24.5], "nice": false, "zero": false}, "axis": null}, "y": {"field": "dd", "type": "quantitative", "scale": {"domain": [0, 80], "reverse": true, "nice": false, "zero": false}}, "text": {"field": "label"}}}
      ],
      "resolve": {"axis": {"x": "independent"}}
    },
    {
      "width": 92, "height": 491,
      "layer": [
        {"data": {"name": "revA"},
         "mark": {"type": "rect", "color": "#8b1a1a", "stroke": "#8b1a1a", "strokeWidth": 1.1},
         "encoding": {
           "x": {"field": "r", "type": "quantitative", "scale": {"domain": [0, 400], "nice": false, "zero": false}, "axis": {"orient": "bottom", "values": [0, 100, 200, 300, 400], "labelExpr": "datum.value % 200 === 0 ? datum.label : ''", "title": "revs/pellet", "labelPadding": 15, "titlePadding": 10}},
           "x2": {"datum": 0},
           "y": {"field": "d0", "type": "quantitative", "scale": {"domain": [0, 80], "reverse": true, "nice": false, "zero": false}, "axis": {"orient": "right", "values": [0, 20, 40, 60, 80], "title": null, "labelPadding": 6}},
           "y2": {"field": "d1"}}},
        {"layer": [
          {"data": {"values": [{"w": 21}, {"w": 24}, {"w": 27}]},
           "mark": {"type": "rule", "color": "#d0d0d0", "strokeWidth": 1.2},
           "encoding": {"x": {"field": "w", "type": "quantitative", "scale": {"domain": [18, 30], "nice": false, "zero": false}, "axis": {"orient": "top", "values": [18, 21, 24, 27, 30], "title": "bodyweight (g)", "labelPadding": 4, "titlePadding": 6, "labelFontSize": 15}}}},
          {"data": {"name": "bwA"},
           "mark": {"type": "point", "shape": "diamond", "filled": true, "color": "#000000", "size": 26, "opacity": 1},
           "encoding": {
             "x": {"field": "w", "type": "quantitative", "scale": {"domain": [18, 30], "nice": false, "zero": false}, "axis": {"orient": "top", "values": [18, 21, 24, 27, 30], "title": "bodyweight (g)", "labelPadding": 4, "titlePadding": 6, "labelFontSize": 15}},
             "y": {"field": "d", "type": "quantitative", "scale": {"domain": [0, 80], "reverse": true, "nice": false, "zero": false}}}}
        ]}
      ],
      "resolve": {"scale": {"x": "independent"}}
    },
    {
      "width": 58, "height": 491,
      "view": {"stroke": null},
      "data": {"values": []},
      "mark": {"type": "point"},
      "encoding": {}
    },
    {
      "width": 245, "height": 491,
      "layer": [
        {"data": {"values": [{"s": 0, "e": 12, "t": 0.2, "b": 1.45, "phase": "light"}, {"s": 12, "e": 24, "t": 0.2, "b": 1.45, "phase": "dark"}]},
         "mark": {"type": "rect", "stroke": "#444444", "strokeWidth": 1},
         "encoding": {
           "x": {"field": "s", "type": "quantitative", "scale": {"domain": [-0.5, 24.5], "nice": false, "zero": false}, "axis": {"orient": "top", "values": [0, 6, 12, 18, 24], "labels": false, "title": null}},
           "x2": {"field": "e"},
           "y": {"field": "t", "type": "quantitative", "scale": {"domain": [0, 80], "reverse": true, "nice": false, "zero": false}},
           "y2": {"field": "b"},
           "fill": {"field": "phase", "type": "nominal", "scale": {"domain": ["light", "dark"], "range": ["#ffffff", "#707070"]}, "legend": null}}},
        {"data": {"name": "actB"}, "transform": [{"flatten": ["s", "e"]}],
         "mark": {"type": "bar", "orient": "horizontal", "size": 5, "yOffset": -2, "color": "#000000", "cornerRadiusTopLeft": 2, "cornerRadiusTopRight": 2},
         "encoding": {
           "x": {"field": "s", "type": "quantitative", "scale": {"domain": [-0.5, 24.5], "nice": false, "zero": false}, "axis": {"orient": "bottom", "values": [0, 6, 12, 18, 24], "title": null, "labelPadding": 15}},
           "x2": {"field": "e"},
           "y": {"field": "d", "type": "quantitative", "scale": {"domain": [0, 80], "reverse": true, "nice": false, "zero": false}, "axis": {"orient": "left", "values": [0, 20, 40, 60, 80], "title": null, "labelPadding": 12}}}},
        {"data": {"values": [{"h": 12}]},
         "mark": {"type": "rule", "color": "#c4c4c4", "strokeWidth": 1.2},
         "encoding": {"x": {"field": "h", "type": "quantitative", "scale": {"domain": [-0.5, 24.5], "nice": false, "zero": false}, "axis": null}}},
        {"data": {"name": "feedLines"},
         "mark": {"type": "rule", "color": "#f27b7b", "strokeWidth": 1.5},
         "encoding": {
           "x": {"field": "s", "type": "quantitative", "scale": {"domain": [-0.5, 24.5], "nice": false, "zero": false}, "axis": null},
           "x2": {"field": "e"},
           "y": {"field": "d", "type": "quantitative", "scale": {"domain": [0, 80], "reverse": true, "nice": false, "zero": false}}}},
        {"data": {"values": [{"label": "b AD", "h": -2.5, "dd": -6.0}]},
         "mark": {"type": "text", "font": "Liberation Serif", "fontSize": 34, "fontWeight": "bold", "align": "left", "baseline": "alphabetic", "color": "#111111"},
         "encoding": {"x": {"field": "h", "type": "quantitative", "scale": {"domain": [-0.5, 24.5], "nice": false, "zero": false}, "axis": null}, "y": {"field": "dd", "type": "quantitative", "scale": {"domain": [0, 80], "reverse": true, "nice": false, "zero": false}}, "text": {"field": "label"}}},
        {"data": {"values": [{"label": "X #3", "h": 5.7, "dd": -4.6}]},
         "mark": {"type": "text", "font": "Liberation Serif", "fontSize": 22, "fontWeight": "bold", "align": "left", "baseline": "alphabetic", "color": "#111111"},
         "encoding": {"x": {"field": "h", "type": "quantitative", "scale": {"domain": [-0.5, 24.5], "nice": false, "zero": false}, "axis": null}, "y": {"field": "dd", "type": "quantitative", "scale": {"domain": [0, 80], "reverse": true, "nice": false, "zero": false}}, "text": {"field": "label"}}}
      ],
      "resolve": {"axis": {"x": "independent"}}
    },
    {
      "width": 92, "height": 491,
      "layer": [
        {"data": {"name": "revB"},
         "mark": {"type": "rect", "color": "#8b1a1a", "stroke": "#8b1a1a", "strokeWidth": 1.1},
         "encoding": {
           "x": {"field": "r", "type": "quantitative", "scale": {"domain": [0, 400], "nice": false, "zero": false}, "axis": {"orient": "bottom", "values": [0, 100, 200, 300, 400], "labelExpr": "datum.value % 200 === 0 ? datum.label : ''", "title": "revs/pellet", "labelPadding": 15, "titlePadding": 10}},
           "x2": {"datum": 0},
           "y": {"field": "d0", "type": "quantitative", "scale": {"domain": [0, 80], "reverse": true, "nice": false, "zero": false}, "axis": {"orient": "right", "values": [0, 20, 40, 60, 80], "title": null, "labelPadding": 6}},
           "y2": {"field": "d1"}}},
        {"layer": [
          {"data": {"values": [{"w": 21}, {"w": 24}, {"w": 27}]},
           "mark": {"type": "rule", "color": "#d0d0d0", "strokeWidth": 1.2},
           "encoding": {"x": {"field": "w", "type": "quantitative", "scale": {"domain": [18, 30], "nice": false, "zero": false}, "axis": {"orient": "top", "values": [18, 21, 24, 27, 30], "title": "bodyweight (g)", "labelPadding": 4, "titlePadding": 6, "labelFontSize": 15}}}},
          {"data": {"name": "bwB"},
           "mark": {"type": "point", "shape": "diamond", "filled": true, "color": "#000000", "size": 26, "opacity": 1},
           "encoding": {
             "x": {"field": "w", "type": "quantitative", "scale": {"domain": [18, 30], "nice": false, "zero": false}, "axis": {"orient": "top", "values": [18, 21, 24, 27, 30], "title": "bodyweight (g)", "labelPadding": 4, "titlePadding": 6, "labelFontSize": 15}},
             "y": {"field": "d", "type": "quantitative", "scale": {"domain": [0, 80], "reverse": true, "nice": false, "zero": false}}}}
        ]}
      ],
      "resolve": {"scale": {"x": "independent"}}
    },
    {
      "width": 245, "height": 491,
      "layer": [
        {"data": {"values": [{"s": 0, "e": 12, "t": 0.2, "b": 1.45, "phase": "light"}, {"s": 12, "e": 24, "t": 0.2, "b": 1.45, "phase": "dark"}]},
         "mark": {"type": "rect", "stroke": "#444444", "strokeWidth": 1},
         "encoding": {
           "x": {"field": "s", "type": "quantitative", "scale": {"domain": [-0.5, 24.5], "nice": false, "zero": false}, "axis": {"orient": "top", "values": [0, 6, 12, 18, 24], "labels": false, "title": null}},
           "x2": {"field": "e"},
           "y": {"field": "t", "type": "quantitative", "scale": {"domain": [0, 80], "reverse": true, "nice": false, "zero": false}},
           "y2": {"field": "b"},
           "fill": {"field": "phase", "type": "nominal", "scale": {"domain": ["light", "dark"], "range": ["#ffffff", "#707070"]}, "legend": null}}},
        {"data": {"name": "actC"}, "transform": [{"flatten": ["s", "e"]}],
         "mark": {"type": "bar", "orient": "horizontal", "size": 5, "yOffset": -2, "color": "#000000", "cornerRadiusTopLeft": 2, "cornerRadiusTopRight": 2},
         "encoding": {
           "x": {"field": "s", "type": "quantitative", "scale": {"domain": [-0.5, 24.5], "nice": false, "zero": false}, "axis": {"orient": "bottom", "values": [0, 6, 12, 18, 24], "title": "Zt (h)", "labelPadding": 15, "titlePadding": 10}},
           "x2": {"field": "e"},
           "y": {"field": "d", "type": "quantitative", "scale": {"domain": [0, 80], "reverse": true, "nice": false, "zero": false}, "axis": {"orient": "left", "values": [0, 20, 40, 60, 80], "title": "days", "labelPadding": 12, "titlePadding": 21}}}},
        {"data": {"values": [{"h": 12}]},
         "mark": {"type": "rule", "color": "#c4c4c4", "strokeWidth": 1.2},
         "encoding": {"x": {"field": "h", "type": "quantitative", "scale": {"domain": [-0.5, 24.5], "nice": false, "zero": false}, "axis": null}}},
        {"data": {"name": "feedLines"},
         "mark": {"type": "rule", "color": "#f27b7b", "strokeWidth": 1.5},
         "encoding": {
           "x": {"field": "s", "type": "quantitative", "scale": {"domain": [-0.5, 24.5], "nice": false, "zero": false}, "axis": null},
           "x2": {"field": "e"},
           "y": {"field": "d", "type": "quantitative", "scale": {"domain": [0, 80], "reverse": true, "nice": false, "zero": false}}}},
        {"data": {"values": [{"label": "c AD", "h": -2.9, "dd": -6.0}]},
         "mark": {"type": "text", "font": "Liberation Serif", "fontSize": 34, "fontWeight": "bold", "align": "left", "baseline": "alphabetic", "color": "#111111"},
         "encoding": {"x": {"field": "h", "type": "quantitative", "scale": {"domain": [-0.5, 24.5], "nice": false, "zero": false}, "axis": null}, "y": {"field": "dd", "type": "quantitative", "scale": {"domain": [0, 80], "reverse": true, "nice": false, "zero": false}}, "text": {"field": "label"}}},
        {"data": {"values": [{"label": "SHAM #5", "h": 4.6, "dd": -4.6}]},
         "mark": {"type": "text", "font": "Liberation Serif", "fontSize": 22, "fontWeight": "bold", "align": "left", "baseline": "alphabetic", "color": "#111111"},
         "encoding": {"x": {"field": "h", "type": "quantitative", "scale": {"domain": [-0.5, 24.5], "nice": false, "zero": false}, "axis": null}, "y": {"field": "dd", "type": "quantitative", "scale": {"domain": [0, 80], "reverse": true, "nice": false, "zero": false}}, "text": {"field": "label"}}}
      ],
      "resolve": {"axis": {"x": "independent"}}
    },
    {
      "width": 92, "height": 491,
      "layer": [
        {"data": {"name": "revC"},
         "mark": {"type": "rect", "color": "#8b1a1a", "stroke": "#8b1a1a", "strokeWidth": 1.1},
         "encoding": {
           "x": {"field": "r", "type": "quantitative", "scale": {"domain": [0, 400], "nice": false, "zero": false}, "axis": {"orient": "bottom", "values": [0, 100, 200, 300, 400], "labelExpr": "datum.value % 200 === 0 ? datum.label : ''", "title": "revs/pellet", "labelPadding": 15, "titlePadding": 10}},
           "x2": {"datum": 0},
           "y": {"field": "d0", "type": "quantitative", "scale": {"domain": [0, 80], "reverse": true, "nice": false, "zero": false}, "axis": {"orient": "right", "values": [0, 20, 40, 60, 80], "title": null, "labelPadding": 6}},
           "y2": {"field": "d1"}}},
        {"layer": [
          {"data": {"values": [{"w": 21}, {"w": 24}, {"w": 27}]},
           "mark": {"type": "rule", "color": "#d0d0d0", "strokeWidth": 1.2},
           "encoding": {"x": {"field": "w", "type": "quantitative", "scale": {"domain": [18, 30], "nice": false, "zero": false}, "axis": {"orient": "top", "values": [18, 21, 24, 27, 30], "title": "bodyweight (g)", "labelPadding": 4, "titlePadding": 6, "labelFontSize": 15}}}},
          {"data": {"name": "bwC"},
           "mark": {"type": "point", "shape": "diamond", "filled": true, "color": "#000000", "size": 26, "opacity": 1},
           "encoding": {
             "x": {"field": "w", "type": "quantitative", "scale": {"domain": [18, 30], "nice": false, "zero": false}, "axis": {"orient": "top", "values": [18, 21, 24, 27, 30], "title": "bodyweight (g)", "labelPadding": 4, "titlePadding": 6, "labelFontSize": 15}},
             "y": {"field": "d", "type": "quantitative", "scale": {"domain": [0, 80], "reverse": true, "nice": false, "zero": false}}}}
        ]}
      ],
      "resolve": {"scale": {"x": "independent"}}
    },
    {
      "width": 58, "height": 491,
      "view": {"stroke": null},
      "data": {"values": []},
      "mark": {"type": "point"},
      "encoding": {}
    },
    {
      "width": 245, "height": 491,
      "layer": [
        {"data": {"values": [{"s": 0, "e": 12, "t": 0.2, "b": 1.45, "phase": "light"}, {"s": 12, "e": 24, "t": 0.2, "b": 1.45, "phase": "dark"}]},
         "mark": {"type": "rect", "stroke": "#444444", "strokeWidth": 1},
         "encoding": {
           "x": {"field": "s", "type": "quantitative", "scale": {"domain": [-0.5, 24.5], "nice": false, "zero": false}, "axis": {"orient": "top", "values": [0, 6, 12, 18, 24], "labels": false, "title": null}},
           "x2": {"field": "e"},
           "y": {"field": "t", "type": "quantitative", "scale": {"domain": [0, 80], "reverse": true, "nice": false, "zero": false}},
           "y2": {"field": "b"},
           "fill": {"field": "phase", "type": "nominal", "scale": {"domain": ["light", "dark"], "range": ["#ffffff", "#707070"]}, "legend": null}}},
        {"data": {"name": "actD"}, "transform": [{"flatten": ["s", "e"]}],
         "mark": {"type": "bar", "orient": "horizontal", "size": 5, "yOffset": -2, "color": "#000000", "cornerRadiusTopLeft": 2, "cornerRadiusTopRight": 2},
         "encoding": {
           "x": {"field": "s", "type": "quantitative", "scale": {"domain": [-0.5, 24.5], "nice": false, "zero": false}, "axis": {"orient": "bottom", "values": [0, 6, 12, 18, 24], "title": "Zt (h)", "labelPadding": 15, "titlePadding": 10}},
           "x2": {"field": "e"},
           "y": {"field": "d", "type": "quantitative", "scale": {"domain": [0, 80], "reverse": true, "nice": false, "zero": false}, "axis": {"orient": "left", "values": [0, 20, 40, 60, 80], "title": null, "labelPadding": 12}}}},
        {"data": {"values": [{"h": 12}]},
         "mark": {"type": "rule", "color": "#c4c4c4", "strokeWidth": 1.2},
         "encoding": {"x": {"field": "h", "type": "quantitative", "scale": {"domain": [-0.5, 24.5], "nice": false, "zero": false}, "axis": null}}},
        {"data": {"name": "feedLines"},
         "mark": {"type": "rule", "color": "#f27b7b", "strokeWidth": 1.5},
         "encoding": {
           "x": {"field": "s", "type": "quantitative", "scale": {"domain": [-0.5, 24.5], "nice": false, "zero": false}, "axis": null},
           "x2": {"field": "e"},
           "y": {"field": "d", "type": "quantitative", "scale": {"domain": [0, 80], "reverse": true, "nice": false, "zero": false}}}},
        {"data": {"values": [{"label": "d AD", "h": -2.9, "dd": -6.0}]},
         "mark": {"type": "text", "font": "Liberation Serif", "fontSize": 34, "fontWeight": "bold", "align": "left", "baseline": "alphabetic", "color": "#111111"},
         "encoding": {"x": {"field": "h", "type": "quantitative", "scale": {"domain": [-0.5, 24.5], "nice": false, "zero": false}, "axis": null}, "y": {"field": "dd", "type": "quantitative", "scale": {"domain": [0, 80], "reverse": true, "nice": false, "zero": false}}, "text": {"field": "label"}}},
        {"data": {"values": [{"label": "SHAM #7", "h": 5.0, "dd": -4.6}]},
         "mark": {"type": "text", "font": "Liberation Serif", "fontSize": 22, "fontWeight": "bold", "align": "left", "baseline": "alphabetic", "color": "#111111"},
         "encoding": {"x": {"field": "h", "type": "quantitative", "scale": {"domain": [-0.5, 24.5], "nice": false, "zero": false}, "axis": null}, "y": {"field": "dd", "type": "quantitative", "scale": {"domain": [0, 80], "reverse": true, "nice": false, "zero": false}}, "text": {"field": "label"}}}
      ],
      "resolve": {"axis": {"x": "independent"}}
    },
    {
      "width": 92, "height": 491,
      "layer": [
        {"data": {"name": "revD"},
         "mark": {"type": "rect", "color": "#8b1a1a", "stroke": "#8b1a1a", "strokeWidth": 1.1},
         "encoding": {
           "x": {"field": "r", "type": "quantitative", "scale": {"domain": [0, 400], "nice": false, "zero": false}, "axis": {"orient": "bottom", "values": [0, 100, 200, 300, 400], "labelExpr": "datum.value % 200 === 0 ? datum.label : ''", "title": "revs/pellet", "labelPadding": 15, "titlePadding": 10}},
           "x2": {"datum": 0},
           "y": {"field": "d0", "type": "quantitative", "scale": {"domain": [0, 80], "reverse": true, "nice": false, "zero": false}, "axis": {"orient": "right", "values": [0, 20, 40, 60, 80], "title": null, "labelPadding": 6}},
           "y2": {"field": "d1"}}},
        {"layer": [
          {"data": {"values": [{"w": 21}, {"w": 24}, {"w": 27}]},
           "mark": {"type": "rule", "color": "#d0d0d0", "strokeWidth": 1.2},
           "encoding": {"x": {"field": "w", "type": "quantitative", "scale": {"domain": [18, 30], "nice": false, "zero": false}, "axis": {"orient": "top", "values": [18, 21, 24, 27, 30], "title": "bodyweight (g)", "labelPadding": 4, "titlePadding": 6, "labelFontSize": 15}}}},
          {"data": {"name": "bwD"},
           "mark": {"type": "point", "shape": "diamond", "filled": true, "color": "#000000", "size": 26, "opacity": 1},
           "encoding": {
             "x": {"field": "w", "type": "quantitative", "scale": {"domain": [18, 30], "nice": false, "zero": false}, "axis": {"orient": "top", "values": [18, 21, 24, 27, 30], "title": "bodyweight (g)", "labelPadding": 4, "titlePadding": 6, "labelFontSize": 15}},
             "y": {"field": "d", "type": "quantitative", "scale": {"domain": [0, 80], "reverse": true, "nice": false, "zero": false}}}}
        ]}
      ],
      "resolve": {"scale": {"x": "independent"}}
    }
  ]
}
